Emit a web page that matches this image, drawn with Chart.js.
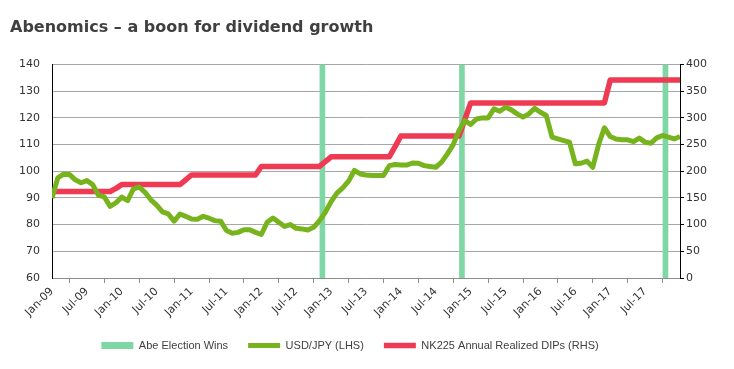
<!DOCTYPE html>
<html>
<head>
<meta charset="utf-8">
<script src="https://cdn.jsdelivr.net/npm/chart.js@4.4.1/dist/chart.umd.min.js"></script>
<style>
html, body { margin: 0; padding: 0; background: #fff; }
#wrap { width: 734px; height: 369px; position: relative; }
</style>
</head>
<body>
<div id="wrap"><canvas id="chart"></canvas></div>
<script>
// month index 0 = Jan-09 ... 108 = Jan-18
var tickLabels = ['Jan-09','Jul-09','Jan-10','Jul-10','Jan-11','Jul-11','Jan-12','Jul-12','Jan-13','Jul-13',
                  'Jan-14','Jul-14','Jan-15','Jul-15','Jan-16','Jul-16','Jan-17','Jul-17'];

var usdjpy = [
  90, 97.5, 98.9, 98.8, 96.8, 95.7, 96.5, 95, 91, 90.4, 86.8, 88.2,
  90.3, 89, 93.4, 94.1, 92.1, 89.3, 87.3, 84.8, 84, 81.3, 84, 83.1,
  82.1, 82, 83.1, 82.4, 81.5, 81.3, 77.8, 76.8, 77.1, 78.1, 78.1, 77.1,
  76.3, 80.9, 82.5, 80.9, 79.3, 80, 78.6, 78.4, 78, 79, 81.5, 84.6,
  88.6, 91.8, 93.8, 96.3, 100.3, 99, 98.6, 98.4, 98.4, 98.4, 102.1, 102.5,
  102.3, 102.3, 103.1, 103, 102.1, 101.8, 101.5, 103.4, 106.5, 110, 115.3, 119,
  117.5, 119.6, 120, 120, 123.4, 122.5, 124, 123, 121.5, 120.3, 121.5, 123.6,
  122.1, 120.9, 112.8, 112.1, 111.5, 110.9, 102.8, 103, 103.8, 101.5, 110, 116.3,
  113, 112.1, 111.8, 111.8, 111.1, 112.4, 110.9, 110.5, 112.5, 113.4, 112.8, 112.1,
  113
];

var dips = [
  162, 162, 162, 162, 162, 162, 162, 162, 162, 162, 162, 168,
  175, 175, 175, 175, 175, 175, 175, 175, 175, 175, 175, 184,
  193, 193, 193, 193, 193, 193, 193, 193, 193, 193, 193, 193,
  209, 209, 209, 209, 209, 209, 209, 209, 209, 209, 209, 218,
  227, 227, 227, 227, 227, 227, 227, 227, 227, 227, 227, 246,
  266, 266, 266, 266, 266, 266, 266, 266, 266, 266, 266, 297,
  328, 328, 328, 328, 328, 328, 328, 328, 328, 328, 328, 328,
  328, 328, 328, 328, 328, 328, 328, 328, 328, 328, 328, 328,
  371, 371, 371, 371, 371, 371, 371, 371, 371, 371, 371, 371,
  371
];

var electionWins = [46.5, 70.5, 105.5];

var seriesNames = ['Abe Election Wins', 'USD/JPY (LHS)', 'NK225 Annual Realized DIPs (RHS)'];

function toPoints(arr) { return arr.map(function (v, i) { return { x: i, y: v }; }); }

// legend sits a little left of the canvas centre in the original
var legendShift = {
  id: 'legendShift',
  afterLayout: function (chart) {
    var lg = chart.legend;
    if (lg) { lg.left -= 22; lg.right -= 22; }
  }
};

Chart.defaults.font.family = 'DejaVu Sans';
Chart.defaults.font.size = 11;
Chart.defaults.color = '#333';

new Chart(document.getElementById('chart'), {
  type: 'line',
  data: {
    datasets: [
      { type: 'bar', label: seriesNames[0], data: electionWins.map(function (m) { return { x: m, y: 140 }; }),
        yAxisID: 'y', backgroundColor: '#80d7a6', borderWidth: 0, barThickness: 5, order: 1, pointStyle: 'rect' },
      { label: seriesNames[1], data: toPoints(usdjpy), yAxisID: 'y', borderColor: '#77b31c', backgroundColor: '#77b31c',
        borderWidth: 5, pointRadius: 0, tension: 0, borderJoinStyle: 'round', order: 0, pointStyle: 'line' },
      { label: seriesNames[2], data: toPoints(dips), yAxisID: 'y1', borderColor: '#ee3a52', backgroundColor: '#ee3a52',
        borderWidth: 5.5, pointRadius: 0, tension: 0, borderJoinStyle: 'round', order: 0, pointStyle: 'line' }
    ]
  },
  options: {
    responsive: true, maintainAspectRatio: false, animation: false,
    layout: { padding: { left: 10, right: 0, top: 0, bottom: 8 } },
    scales: {
      x: {
        type: 'linear', min: 0, max: 108, offset: false,
        afterFit: function (s) { s.height = 42; },
        grid: { drawOnChartArea: false, drawTicks: true, tickLength: 5, tickColor: '#8c8c8c' },
        border: { color: '#8c8c8c' },
        ticks: { stepSize: 6, autoSkip: false, minRotation: 45, maxRotation: 45, padding: 2, color: '#333',
          callback: function (v) { return tickLabels[v / 6] || ''; } }
      },
      y: {
        position: 'left', min: 60, max: 140,
        afterFit: function (s) { s.width = 42; },
        grid: { color: '#a6a6a6', drawTicks: false },
        border: { color: '#000' },
        ticks: { stepSize: 10, padding: 12, color: '#333' }
      },
      y1: {
        position: 'right', min: 0, max: 400,
        afterFit: function (s) { s.width = 54; },
        grid: { drawOnChartArea: false, drawTicks: true, tickLength: 4, tickColor: '#000' },
        border: { color: '#000' },
        ticks: { stepSize: 50, padding: 2, color: '#333' }
      }
    },
    plugins: {
      title: { display: true, text: 'Abenomics \u2013 a boon for dividend growth', align: 'start', color: '#404040',
        font: { family: 'DejaVu Sans', size: 16, weight: 'bold' }, padding: { top: 18.5, bottom: 26.8 } },
      legend: { position: 'bottom',
        labels: { usePointStyle: true, pointStyleWidth: 32, boxHeight: 7, padding: 20, color: '#404040',
          font: { family: 'Liberation Sans', size: 11 },
          sort: function (a, b) { return a.datasetIndex - b.datasetIndex; } } },
      tooltip: { enabled: false }
    }
  },
  plugins: [legendShift]
});
</script>
</body>
</html>
